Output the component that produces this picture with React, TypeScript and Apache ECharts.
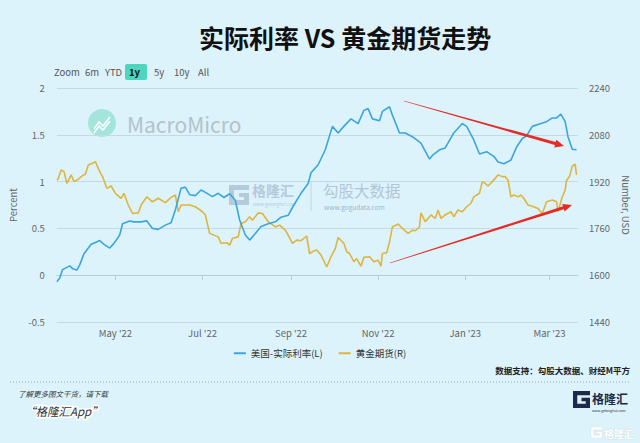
import React, { useEffect, useRef } from "react";
import * as echarts from "echarts";

const realRateDates = [
  "2022-03-21","2022-03-23","2022-03-25","2022-03-30","2022-04-01","2022-04-04","2022-04-06","2022-04-09",
  "2022-04-14","2022-04-17","2022-04-20","2022-04-23","2022-04-27","2022-04-30","2022-05-04","2022-05-06",
  "2022-05-11","2022-05-14","2022-05-19","2022-05-23","2022-05-27","2022-05-31","2022-06-05","2022-06-09",
  "2022-06-12","2022-06-16","2022-06-19","2022-06-22","2022-06-26","2022-06-30","2022-07-03","2022-07-08",
  "2022-07-12","2022-07-16","2022-07-20","2022-07-24","2022-07-27","2022-07-31","2022-08-03","2022-08-07",
  "2022-08-11","2022-08-16","2022-08-21","2022-08-25","2022-08-30","2022-09-03","2022-09-08","2022-09-13",
  "2022-09-15","2022-09-20","2022-09-25","2022-09-30","2022-10-04","2022-10-08","2022-10-13","2022-10-18",
  "2022-10-22","2022-10-25","2022-10-28","2022-11-02","2022-11-04","2022-11-09","2022-11-11","2022-11-16",
  "2022-11-20","2022-11-25","2022-12-01","2022-12-07","2022-12-09","2022-12-14","2022-12-18","2022-12-24",
  "2022-12-30","2023-01-02","2023-01-07","2023-01-11","2023-01-16","2023-01-21","2023-01-24","2023-01-28",
  "2023-02-02","2023-02-06","2023-02-10","2023-02-13","2023-02-17","2023-02-23","2023-02-27","2023-03-03",
  "2023-03-06","2023-03-09","2023-03-12","2023-03-14","2023-03-17","2023-03-20",
];
const realRate = [
  -0.07,-0.03,0.06,0.1,0.07,0.055,0.11,0.23,
  0.33,0.35,0.37,0.33,0.29,0.34,0.43,0.55,
  0.58,0.57,0.57,0.58,0.5,0.49,0.535,0.56,
  0.7,0.93,0.94,0.86,0.85,0.91,0.885,0.84,
  0.875,0.83,0.87,0.8,0.59,0.43,0.375,0.445,
  0.52,0.55,0.57,0.62,0.64,0.75,0.875,0.98,
  1.095,1.18,1.34,1.59,1.52,1.59,1.67,1.62,
  1.76,1.78,1.67,1.65,1.75,1.8,1.71,1.52,
  1.52,1.48,1.41,1.24,1.28,1.34,1.36,1.52,
  1.62,1.59,1.445,1.295,1.32,1.27,1.21,1.19,
  1.23,1.37,1.46,1.49,1.59,1.62,1.64,1.68,
  1.68,1.72,1.64,1.48,1.345,1.34,
];

const goldDates = [
  "2022-03-21","2022-03-22","2022-03-24","2022-03-26","2022-03-28","2022-03-31","2022-04-02","2022-04-05",
  "2022-04-07","2022-04-10","2022-04-12","2022-04-15","2022-04-17","2022-04-20","2022-04-22","2022-04-25",
  "2022-04-28","2022-05-01","2022-05-05","2022-05-07","2022-05-10","2022-05-13","2022-05-17","2022-05-19",
  "2022-05-23","2022-05-27","2022-05-31","2022-06-05","2022-06-09","2022-06-12","2022-06-14","2022-06-16",
  "2022-06-19","2022-06-22","2022-06-26","2022-07-01","2022-07-03","2022-07-06","2022-07-09","2022-07-12",
  "2022-07-14","2022-07-18","2022-07-20","2022-07-22","2022-07-26","2022-07-28","2022-07-31","2022-08-03",
  "2022-08-05","2022-08-09","2022-08-12","2022-08-16","2022-08-21","2022-08-24","2022-08-28","2022-08-30",
  "2022-09-02","2022-09-05","2022-09-08","2022-09-12","2022-09-14","2022-09-17","2022-09-19","2022-09-22",
  "2022-09-26","2022-09-29","2022-10-02","2022-10-04","2022-10-08","2022-10-10","2022-10-12","2022-10-15",
  "2022-10-17","2022-10-20","2022-10-22","2022-10-26","2022-10-29","2022-11-01","2022-11-03","2022-11-04",
  "2022-11-07","2022-11-09","2022-11-11","2022-11-15","2022-11-18","2022-11-22","2022-11-25","2022-11-27",
  "2022-11-30","2022-12-01","2022-12-04","2022-12-08","2022-12-11","2022-12-13","2022-12-15","2022-12-18",
  "2022-12-22","2022-12-24","2022-12-27","2022-12-30","2023-01-02","2023-01-05","2023-01-07","2023-01-11",
  "2023-01-13","2023-01-15","2023-01-17","2023-01-20","2023-01-22","2023-01-24","2023-01-27","2023-01-29",
  "2023-01-31","2023-02-02","2023-02-04","2023-02-07","2023-02-09","2023-02-11","2023-02-14","2023-02-18",
  "2023-02-21","2023-02-24","2023-02-27","2023-03-03","2023-03-06","2023-03-07","2023-03-10","2023-03-12",
  "2023-03-13","2023-03-15","2023-03-17","2023-03-19","2023-03-20",
];
const gold = [
  1925,1931,1960,1954,1914,1943,1920,1928,
  1937,1946,1977,1983,1988,1954,1937,1897,
  1905,1880,1863,1880,1840,1811,1813,1840,
  1868,1851,1863,1848,1866,1874,1817,1840,
  1840,1840,1834,1817,1806,1743,1737,1731,
  1709,1711,1703,1726,1731,1777,1783,1800,
  1788,1813,1811,1783,1765,1771,1754,1737,
  1709,1720,1718,1734,1674,1683,1686,1669,
  1628,1663,1691,1729,1709,1680,1674,1646,
  1657,1631,1661,1663,1646,1651,1631,1674,
  1677,1714,1765,1775,1760,1743,1754,1752,
  1765,1813,1783,1806,1794,1823,1794,1806,
  1817,1800,1823,1817,1834,1846,1868,1880,
  1920,1914,1905,1920,1931,1943,1937,1937,
  1925,1868,1874,1868,1874,1863,1840,1834,
  1828,1811,1851,1857,1851,1817,1868,1891,
  1925,1937,1973,1980,1943,
];

const seriesNames = ["美国-实际利率(L)", "黄金期货(R)"];
const rangeButtons = ["Zoom", "6m", "YTD", "1y", "5y", "10y", "All"];
const monthNames = ["Jan","Feb","Mar","Apr","May","Jun","Jul","Aug","Sep","Oct","Nov","Dec"];

const FONT = "'Noto Sans CJK SC', 'Noto Sans', sans-serif";

function arrowPoints(x1: number, y1: number, x2: number, y2: number, w1: number, w2: number, hl: number, hw: number) {
  const dx = x2 - x1, dy = y2 - y1;
  const len = Math.sqrt(dx * dx + dy * dy);
  const ux = dx / len, uy = dy / len;
  const nx = -uy, ny = ux;
  const bx = x2 - ux * hl, by = y2 - uy * hl;
  return [
    [x1 + nx * w1 / 2, y1 + ny * w1 / 2],
    [bx + nx * w2 / 2, by + ny * w2 / 2],
    [bx + nx * hw, by + ny * hw],
    [x2, y2],
    [bx - nx * hw, by - ny * hw],
    [bx - nx * w2 / 2, by - ny * w2 / 2],
    [x1 - nx * w1 / 2, y1 - ny * w1 / 2],
  ];
}

let registered = false;
function registerLogo() {
  if (registered) return;
  registered = true;
  echarts.graphic.registerShape(
    "glogo",
    echarts.graphic.extendPath("M0 0 H20 V5 H5 V15 H15 V12 H10 V8 H20 V20 H0 Z", {}) as any
  );
}

export default function App() {
  const ref = useRef<HTMLDivElement>(null);
  useEffect(() => {
    if (!ref.current) return;
    registerLogo();
    const chart = echarts.init(ref.current, undefined, { renderer: "svg" });

    const rangeX = [54, 85, 105, 129, 154, 174, 198];
    const rangeGraphics: any[] = [
      { type: "rect", shape: { x: 125, y: 64, width: 22, height: 16, r: 2 }, style: { fill: "#4dd6bd" } },
    ];
    rangeButtons.forEach((b, i) => {
      rangeGraphics.push({
        type: "text", x: rangeX[i], y: 72,
        style: {
          text: b, font: `${b === "1y" ? "bold " : ""}9.5px ${FONT}`,
          fill: b === "1y" ? "#111" : "#555", textVerticalAlign: "middle",
        },
      });
    });

    const option: any = {
      animation: false,
      backgroundColor: "#dcf3fc",
      textStyle: { fontFamily: FONT },
      title: {
        text: "实际利率 VS 黄金期货走势",
        left: 194, top: 19,
        textStyle: { fontSize: 25, fontWeight: "bold", color: "#111", fontFamily: FONT },
      },
      legend: {
        bottom: 80, left: "center",
        icon: "rect", itemWidth: 12, itemHeight: 2, itemGap: 16,
        textStyle: { fontSize: 9.5, color: "#333" },
        data: seriesNames,
      },
      grid: { left: 54, right: 62, top: 88, bottom: 121 },
      xAxis: {
        type: "time",
        min: new Date(2022, 2, 21).getTime(),
        max: new Date(2023, 2, 21).getTime(),
        splitNumber: 6,
        minInterval: 61 * 86400000,
        maxInterval: 61 * 86400000,
        axisLine: { lineStyle: { color: "#b5cad4" } },
        axisTick: { show: true, length: 5, lineStyle: { color: "#b5cad4" } },
        axisLabel: {
          color: "#666", fontSize: 9.5, margin: 6,
          formatter: (v: number) => {
            const d = new Date(v);
            return `${monthNames[d.getMonth()]} '${String(d.getFullYear()).slice(2)}`;
          },
        },
        splitLine: { show: false },
      },
      yAxis: [
        {
          type: "value", min: -0.5, max: 2, interval: 0.5,
          name: "Percent", nameLocation: "middle", nameGap: 34, nameRotate: 90,
          nameTextStyle: { color: "#666", fontSize: 9.5 },
          axisLine: { show: false }, axisTick: { show: false },
          axisLabel: { color: "#666", fontSize: 9.5, margin: 12 },
          splitLine: { lineStyle: { color: "#c5d9e2", width: 1 } },
        },
        {
          type: "value", min: 1440, max: 2240, interval: 160,
          name: "Number, USD", nameLocation: "middle", nameGap: 40, nameRotate: -90,
          nameTextStyle: { color: "#666", fontSize: 9.5 },
          axisLine: { show: false }, axisTick: { show: false },
          axisLabel: { color: "#666", fontSize: 9.5, margin: 11, formatter: (v: number) => String(v) },
          splitLine: { show: false },
        },
      ],
      series: [
        {
          name: seriesNames[0], type: "line", yAxisIndex: 0, showSymbol: false,
          lineStyle: { color: "#3aa6dc", width: 1.6 }, itemStyle: { color: "#3aa6dc" },
          data: realRateDates.map((d, i) => [d, realRate[i]]), z: 3,
        },
        {
          name: seriesNames[1], type: "line", yAxisIndex: 1, showSymbol: false,
          lineStyle: { color: "#dfb43f", width: 1.6 }, itemStyle: { color: "#dfb43f" },
          data: goldDates.map((d, i) => [d, gold[i]]), z: 2,
        },
      ],
      graphic: [
        ...rangeGraphics,
        // MacroMicro watermark
        { type: "circle", shape: { cx: 102, cy: 123, r: 14 }, style: { fill: "#a3e4dc" }, z: 0 },
        { type: "polyline", shape: { points: [[94, 129], [99, 122], [103, 126], [110, 117]] }, style: { stroke: "#fff", lineWidth: 1.5, fill: null }, z: 0 },
        { type: "polyline", shape: { points: [[94, 133], [99, 126], [103, 130], [110, 121]] }, style: { stroke: "#fff", lineWidth: 1.5, fill: null }, z: 0 },
        { type: "text", x: 127, y: 124, style: { text: "MacroMicro", font: `21px ${FONT}`, fill: "#b3c3ca", textVerticalAlign: "middle" }, z: 0 },
        // gelonghui / gogudata watermark
        { type: "glogo", x: 229, y: 185, scaleX: 1, scaleY: 1, style: { fill: "#b5cadb" }, z: 0 },
        { type: "text", x: 252, y: 190, style: { text: "格隆汇", font: `bold 14px ${FONT}`, fill: "#b5cadb", textVerticalAlign: "middle" }, z: 0 },
        { type: "text", x: 253, y: 204, style: { text: "www.gelonghui.com", font: `4.5px ${FONT}`, fill: "#b5cadb", textVerticalAlign: "middle" }, z: 0 },
        { type: "line", shape: { x1: 311, y1: 182, x2: 311, y2: 211 }, style: { stroke: "#c2d4df", lineWidth: 1 }, z: 0 },
        { type: "text", x: 323, y: 190, style: { text: "勾股大数据", font: `15.5px ${FONT}`, fill: "#b3c6d6", textVerticalAlign: "middle" }, z: 0 },
        { type: "text", x: 324, y: 207, style: { text: "www.gogudata.com", font: `6.5px ${FONT}`, fill: "#9fb4c6", textVerticalAlign: "middle" }, z: 0 },
        // red arrows
        { type: "polygon", shape: { points: arrowPoints(404, 101, 564, 146, 0.6, 3, 9, 4) }, style: { fill: "#e32c26" }, z: 10 },
        { type: "polygon", shape: { points: arrowPoints(390, 263, 572, 205, 0.6, 3, 9, 4) }, style: { fill: "#e32c26" }, z: 10 },
        // footer
        { type: "text", right: 10, top: 366, style: { text: "数据支持：勾股大数据、财经M平方", font: `bold 8.5px ${FONT}`, fill: "#222" } },
        { type: "line", shape: { x1: 10, y1: 382, x2: 630, y2: 382 }, style: { stroke: "#9aa5aa", lineWidth: 1, lineDash: [1, 2] } },
        { type: "text", x: 18, y: 393, style: { text: "了解更多图文干货，请下载", font: `italic 7.5px ${FONT}`, fill: "#333", textVerticalAlign: "middle" } },
        { type: "text", x: 24, y: 411, style: { text: "“格隆汇App”", font: `italic 11.5px ${FONT}`, fill: "#333", stroke: "#fff", lineWidth: 3, textVerticalAlign: "middle" } },
        { type: "glogo", x: 573, y: 391, scaleX: 0.85, scaleY: 0.85, style: { fill: "#1d2a4a" } },
        { type: "text", x: 592, y: 398, style: { text: "格隆汇", font: `bold 12px ${FONT}`, fill: "#1d2a4a", textVerticalAlign: "middle" } },
        { type: "text", x: 592, y: 410, style: { text: "www.gelonghui.com", font: `3.5px ${FONT}`, fill: "#1d2a4a", textVerticalAlign: "middle" } },
        { type: "glogo", x: 591, y: 427, scaleX: 0.55, scaleY: 0.55, style: { fill: "#ffffff", stroke: "#c9d3d8", lineWidth: 0.5 } },
        { type: "text", x: 604, y: 433, style: { text: "格隆汇", font: `bold 10px ${FONT}`, fill: "#ffffff", stroke: "#c9d3d8", lineWidth: 0.6, textVerticalAlign: "middle" } },
      ],
    };
    chart.setOption(option);
    return () => chart.dispose();
  }, []);
  return <div ref={ref} style={{ position: "fixed", left: 0, top: 0, width: 640, height: 443 }} />;
}
